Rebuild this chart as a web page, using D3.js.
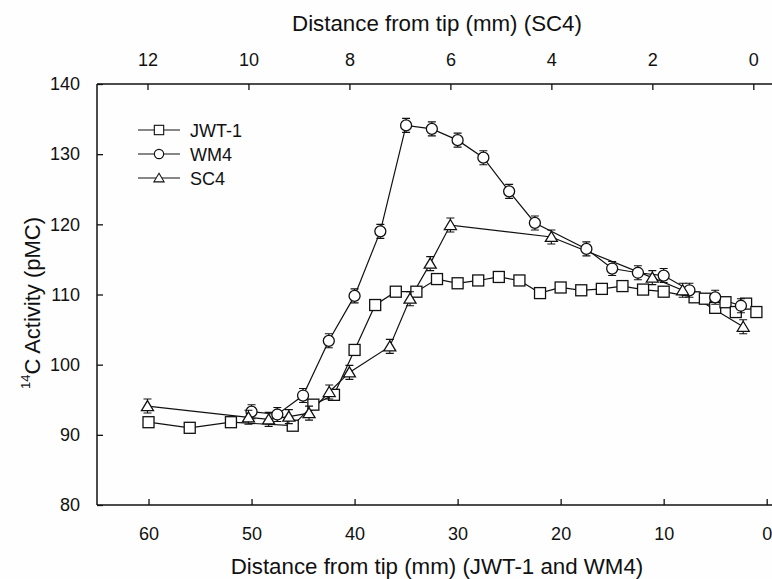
<!DOCTYPE html>
<html>
<head>
<meta charset="utf-8">
<style>
  body { margin: 0; background: #fff; }
  svg { display: block; font-family: "Liberation Sans", Arial, sans-serif; }
</style>
</head>
<body>
<script src="https://cdn.jsdelivr.net/npm/d3@7/dist/d3.min.js"></script>
<script>

  const width = 772,
        height = 579

  // JWT-1: distance from tip (mm, bottom axis) and 14C activity (pMC)
  const jwtDist = [60, 56, 52, 46, 44, 42, 40, 38, 36, 34, 32, 30, 28, 26, 24, 22, 20, 18, 16, 14, 12, 10, 7, 6, 5, 4, 3, 2, 1]
  const jwtPmc  = [91.8, 91.0, 91.8, 91.3, 94.3, 95.7, 102.1, 108.5, 110.4, 110.4, 112.2, 111.6, 112.0, 112.5, 112.0, 110.2, 111.0, 110.6, 110.8, 111.2, 110.7, 110.4, 109.6, 109.4, 108.1, 108.9, 107.5, 108.7, 107.5]

  // WM4: bottom axis
  const wmDist = [50, 47.5, 45, 42.5, 40, 37.5, 35, 32.5, 30, 27.5, 25, 22.5, 17.5, 15, 12.5, 10, 7.5, 5, 2.5]
  const wmPmc  = [93.3, 92.9, 95.6, 103.4, 109.8, 119.0, 134.1, 133.6, 132.0, 129.5, 124.7, 120.2, 116.5, 113.7, 113.1, 112.7, 110.6, 109.6, 108.4]

  // SC4: top axis
  const scDist = [12, 10, 9.6, 9.2, 8.8, 8.4, 8.0, 7.2, 6.8, 6.4, 6.0, 4.0, 2.0, 1.4, 0.2]
  const scPmc  = [94.1, 92.5, 92.2, 92.6, 93.1, 96.1, 98.9, 102.6, 109.4, 114.4, 119.9, 118.2, 112.4, 110.6, 105.4]

  const yTicks = [80, 90, 100, 110, 120, 130, 140]
  const xTicks = [60, 50, 40, 30, 20, 10, 0]
  const xTopTicks = [12, 10, 8, 6, 4, 2, 0]

  const plot = {left: 97, right: 772, top: 84, bottom: 505}

  const x = d3.scaleLinear().domain([65, 0]).range([plot.left, 766.7])
  const xTop = d3.scaleLinear().domain([13, 0]).range([plot.left, 753.3])
  const y = d3.scaleLinear().domain([80, 140]).range([plot.bottom, plot.top])

  const svg = d3.select("body")
    .append("svg")
      .attr("width", width)
      .attr("height", height)

  svg.append("rect")
    .attr("width", width)
    .attr("height", height)
    .attr("fill", "#fefefe")

  // axes
  const gx = svg.append("g")
    .attr("transform", `translate(0, ${plot.bottom})`)
    .call(d3.axisBottom(x).tickValues(xTicks).tickSize(-6).tickPadding(22))
  const gxTop = svg.append("g")
    .attr("transform", `translate(0, ${plot.top})`)
    .call(d3.axisTop(xTop).tickValues(xTopTicks).tickSize(-6).tickPadding(18))
  const gy = svg.append("g")
    .attr("transform", `translate(${plot.left}, 0)`)
    .call(d3.axisLeft(y).tickValues(yTicks).tickSize(-6).tickPadding(17))

  ;[gx, gxTop, gy].forEach(g => {
    g.select(".domain").remove()
    g.selectAll(".tick line").attr("stroke", "#111").attr("stroke-width", 1.3)
    g.selectAll(".tick text")
      .attr("fill", "#111")
      .style("font-family", "'Liberation Sans', Arial, sans-serif")
      .style("font-size", "18px")
  })

  const axisLines = [
    [plot.left, plot.bottom, plot.right, plot.bottom],
    [plot.left, plot.top, plot.right, plot.top],
    [plot.left, plot.top, plot.left, plot.bottom]
  ]
  svg.selectAll(".axisLine")
    .data(axisLines)
    .enter()
    .append("line")
      .attr("x1", d => d[0]).attr("y1", d => d[1])
      .attr("x2", d => d[2]).attr("y2", d => d[3])
      .attr("stroke", "#111")
      .attr("stroke-width", 1.5)

  // titles
  svg.append("text")
    .attr("x", 437).attr("y", 31)
    .style("text-anchor", "middle")
    .style("font-size", "22.3px")
    .attr("fill", "#111")
    .text("Distance from tip (mm) (SC4)")

  svg.append("text")
    .attr("x", 437).attr("y", 574)
    .style("text-anchor", "middle")
    .style("font-size", "22.3px")
    .attr("fill", "#111")
    .text("Distance from tip (mm) (JWT-1 and WM4)")

  const yLabel = svg.append("text")
    .attr("transform", `translate(36, 303) rotate(-90)`)
    .style("text-anchor", "middle")
    .style("font-size", "22px")
    .attr("fill", "#111")
  yLabel.append("tspan").attr("dy", "-0.45em").style("font-size", "13px").text("14")
  yLabel.append("tspan").attr("dy", "0.45em").text("C Activity (pMC)")

  // markers
  const trianglePath = "M0,-5.5L6,4.5L-6,4.5Z"

  function drawMarker(g, shape) {
    if (shape === "square") {
      g.append("rect")
        .attr("x", -5.5).attr("y", -5.5)
        .attr("width", 11).attr("height", 11)
        .attr("fill", "#fff").attr("stroke", "#111").attr("stroke-width", 1.3)
    } else if (shape === "circle") {
      g.append("circle")
        .attr("r", 5.5)
        .attr("fill", "#fff").attr("stroke", "#111").attr("stroke-width", 1.3)
    } else {
      g.append("path")
        .attr("d", trianglePath)
        .attr("fill", "#fff").attr("stroke", "#111").attr("stroke-width", 1.3)
    }
  }

  const series = [
    {name: "JWT-1", dist: jwtDist, pmc: jwtPmc, scale: x, shape: "square"},
    {name: "WM4", dist: wmDist, pmc: wmPmc, scale: x, shape: "circle"},
    {name: "SC4", dist: scDist, pmc: scPmc, scale: xTop, shape: "triangle"}
  ]

  const line = d3.line()

  series.forEach(s => {
    const pts = s.dist.map((d, i) => [s.scale(d), y(s.pmc[i])])
    svg.append("path")
      .attr("d", line(pts))
      .attr("fill", "none")
      .attr("stroke", "#111")
      .attr("stroke-width", 1.2)
  })

  // markers drawn after lines, with small error caps on circles and triangles
  series.forEach(s => {
    const pts = s.dist.map((d, i) => [s.scale(d), y(s.pmc[i])])
    const g = svg.selectAll(`.pt-${s.shape}`)
      .data(pts)
      .enter()
      .append("g")
        .attr("class", `pt-${s.shape}`)
        .attr("transform", d => `translate(${d[0]}, ${d[1]})`)
    if (s.shape !== "square") {
      g.append("path")
        .attr("d", "M0,-7V7M-4,-7H4M-4,7H4")
        .attr("stroke", "#111")
        .attr("stroke-width", 1.1)
    }
    g.each(function() { drawMarker(d3.select(this), s.shape) })
  })

  // legend
  const legend = svg.append("g").attr("transform", "translate(138, 130)")
  series.forEach((s, i) => {
    const row = legend.append("g").attr("transform", `translate(0, ${i * 24})`)
    row.append("line")
      .attr("x1", 0).attr("x2", 42)
      .attr("stroke", "#111").attr("stroke-width", 1.2)
    const m = row.append("g").attr("transform", "translate(21, 0) scale(0.85)")
    drawMarker(m, s.shape)
    row.append("text")
      .attr("x", 52).attr("y", 6.5)
      .style("font-size", "18px")
      .attr("fill", "#111")
      .text(s.name)
  })

</script>
</body>
</html>
